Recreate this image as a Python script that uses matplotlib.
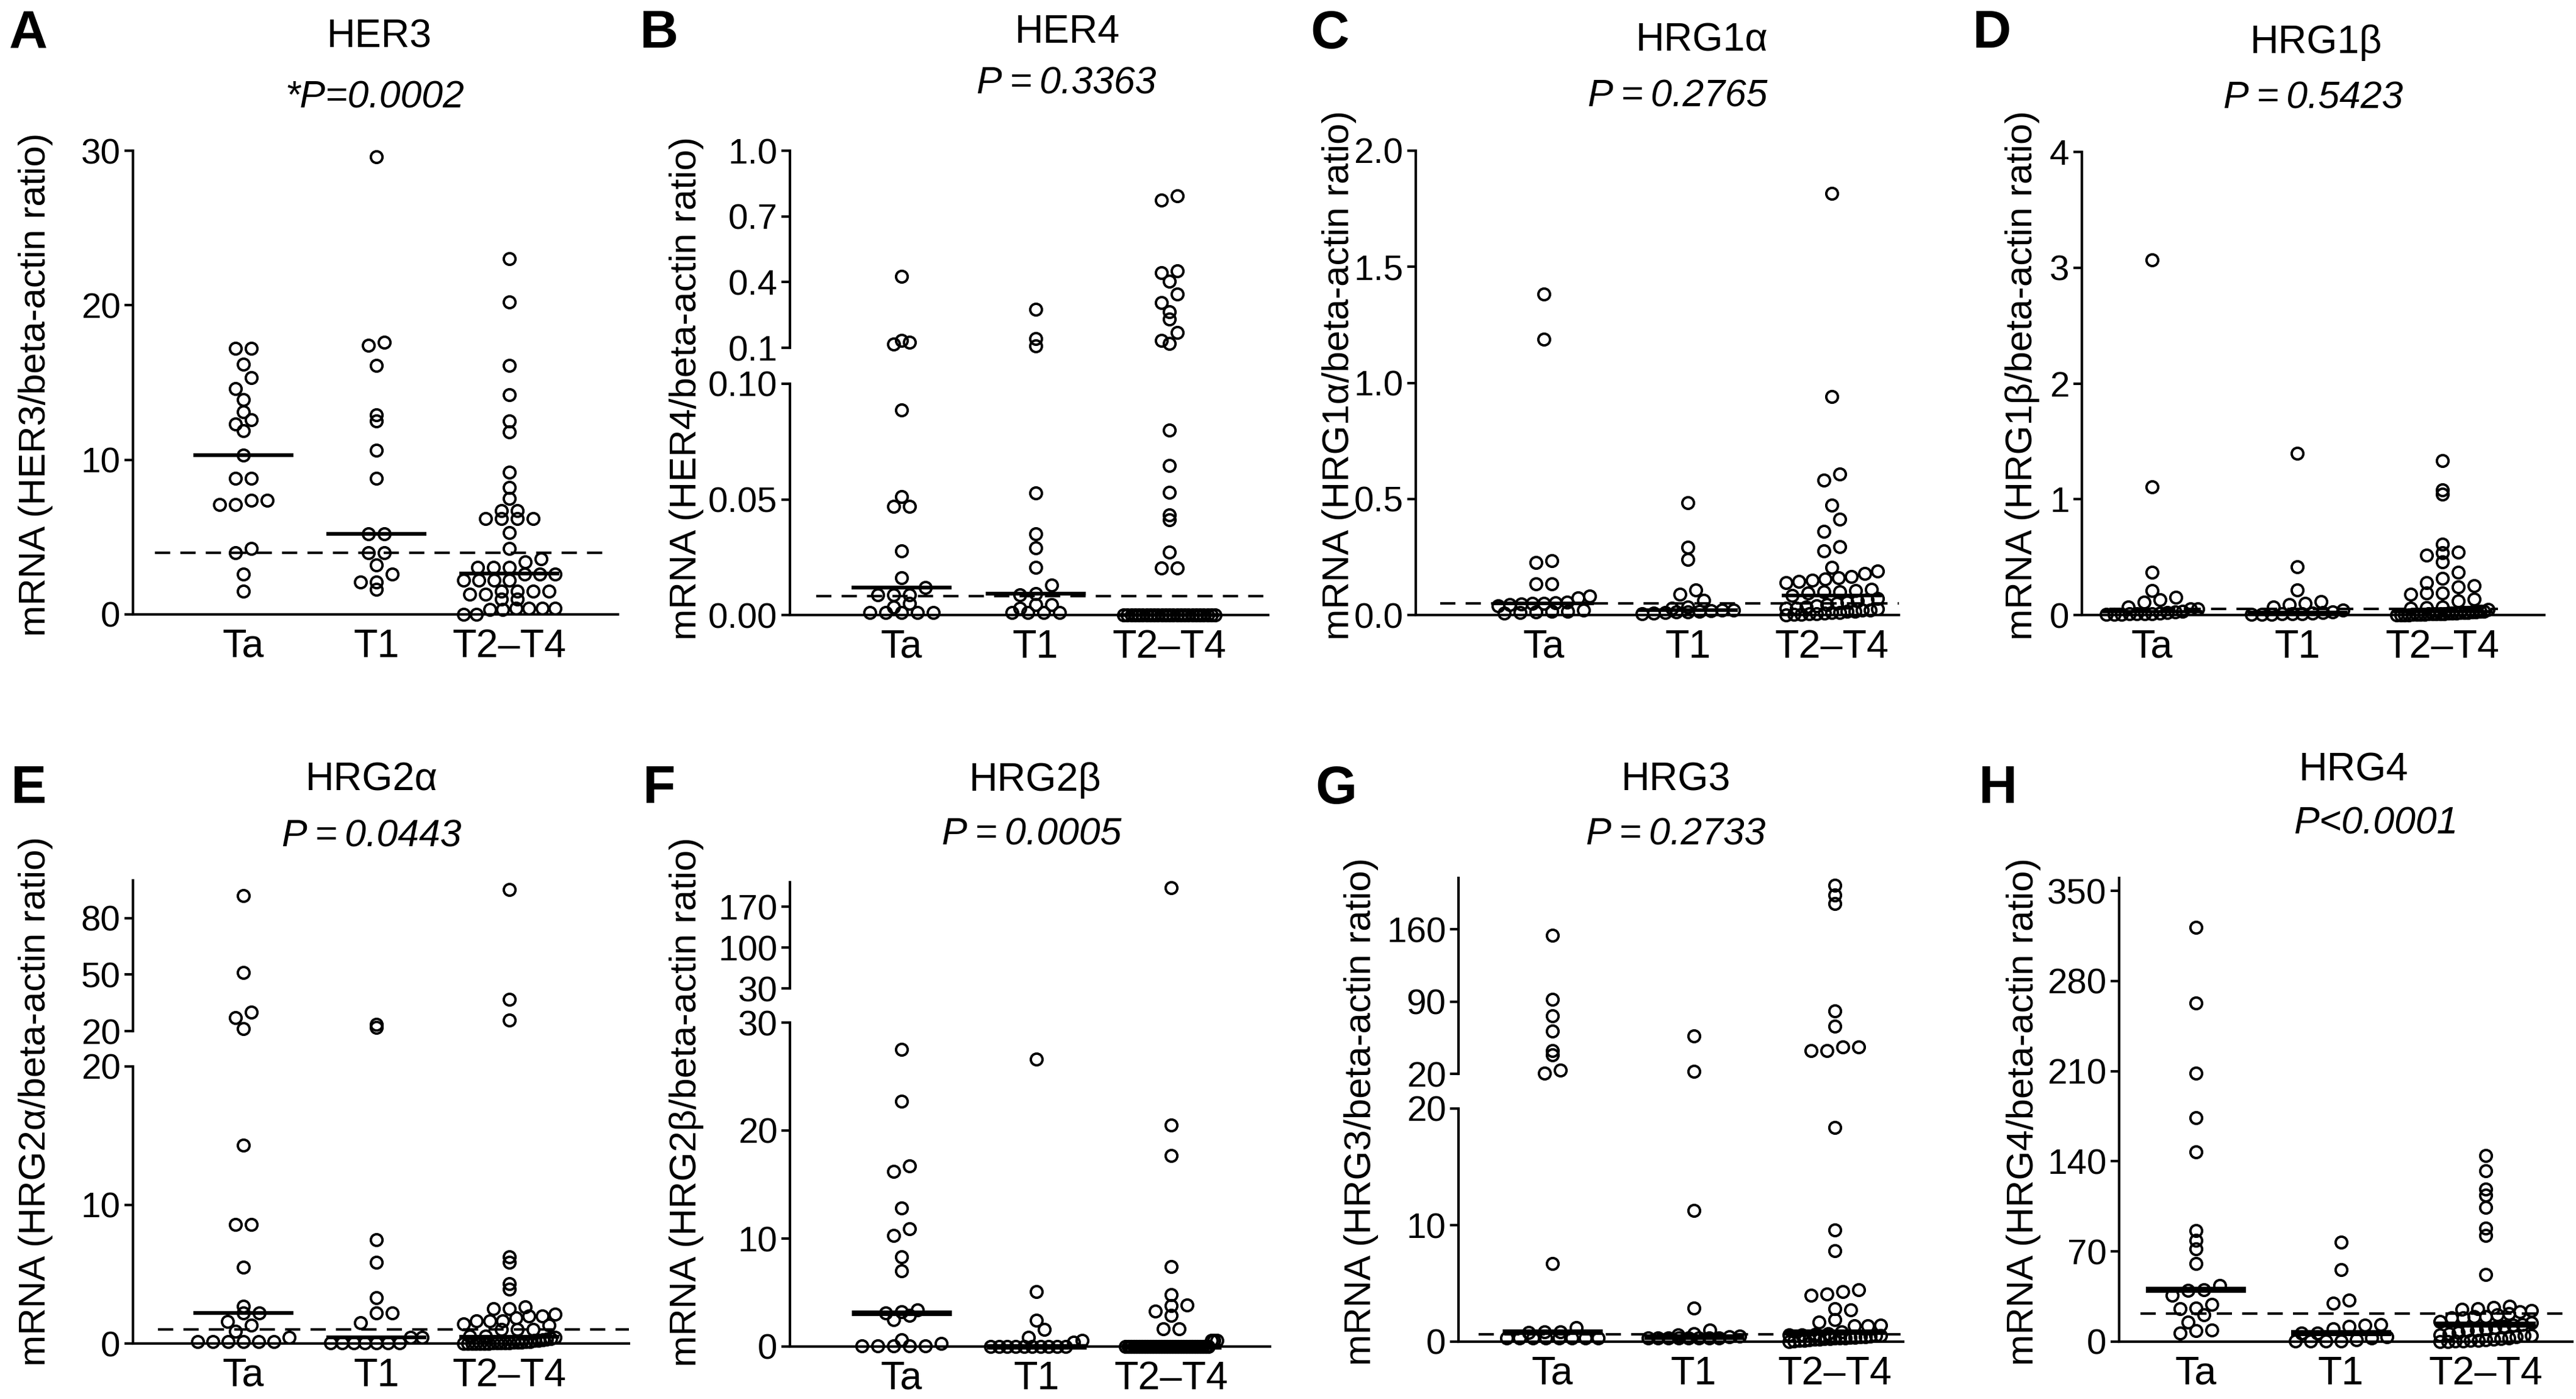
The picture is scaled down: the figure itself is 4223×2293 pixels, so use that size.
import numpy as np
import matplotlib
matplotlib.use("Agg")
import matplotlib.pyplot as plt

plt.rcParams['font.family'] = ['Liberation Sans', 'DejaVu Sans']
plt.rcParams['axes.linewidth'] = 1.0

W, H, DPI = 4223, 2293, 300
GROUPS = ["Ta", "T1", "T2\u2013T4"]

# ---- values (mRNA / beta-actin ratio) ----
# A  HER3
her3_ta = [17.2, 17.2, 16.2, 15.3, 14.6, 13.9, 13.1, 12.6, 12.3, 11.9, 10.3, 8.8, 8.8,
           7.4, 7.4, 7.1, 7.1, 4.25, 4.0, 2.6, 1.5]
her3_t1 = [29.6, 17.6, 17.4, 16.1, 12.9, 12.5, 10.6, 8.8, 5.2, 5.2, 4.0, 4.0, 3.2, 2.6,
           2.1, 2.1, 1.6]
her3_t24 = [23.0, 20.2, 16.1, 14.2, 12.5, 11.8, 9.2, 8.2, 7.5, 6.7, 6.7, 6.2, 6.2, 6.2,
            6.2, 5.3, 4.25, 3.6, 3.4, 3.05, 3.05, 3.05, 2.6, 2.6, 2.6, 2.2, 2.2, 2.2, 2.2,
            1.5, 1.5, 1.5, 1.5, 1.3, 1.3, 1.0, 1.0, 0.4, 0.4, 0.4, 0.4, 0.3, 0.3, 0.0, 0.0]
her3_med = [10.3, 5.2, 2.65]
her3_cut = 4.0

# B  HER4
her4_ta = [0.425, 0.133, 0.124, 0.118, 0.0887, 0.0513, 0.047, 0.047, 0.0276, 0.0161,
           0.012, 0.0087, 0.0087, 0.0087, 0.005, 0.0035, 0.001, 0.001, 0.001, 0.001, 0.001]
her4_t1 = [0.275, 0.143, 0.108, 0.0528, 0.035, 0.029, 0.0207, 0.013, 0.0093, 0.0087,
           0.0044, 0.0044, 0.003, 0.001, 0.001, 0.001, 0.001]
her4_t24 = [0.794, 0.775, 0.451, 0.443, 0.404, 0.345, 0.306, 0.265, 0.231, 0.169, 0.133,
            0.120, 0.080, 0.0646, 0.0531, 0.0433, 0.0411, 0.0272, 0.0204, 0.0204] + [0.0] * 25
her4_med = [0.012, 0.0093, 0.0]
her4_cut = 0.0083

# C  HRG1alpha
hrg1a_ta = [1.382, 1.189, 0.234, 0.225, 0.133, 0.133, 0.081, 0.074, 0.055, 0.052, 0.05,
            0.05, 0.048, 0.045, 0.04, 0.02, 0.017, 0.015, 0.012, 0.01, 0.008]
hrg1a_t1 = [0.483, 0.293, 0.238, 0.109, 0.09, 0.063, 0.035, 0.03, 0.022, 0.02, 0.018,
            0.015, 0.013, 0.012, 0.01, 0.008, 0.005]
hrg1a_t24 = [1.816, 0.94, 0.606, 0.581, 0.474, 0.413, 0.359, 0.295, 0.275, 0.206, 0.188,
             0.179, 0.165, 0.16, 0.155, 0.15, 0.145, 0.14, 0.11, 0.105, 0.10, 0.10, 0.095,
             0.083, 0.07, 0.065, 0.06, 0.055, 0.05, 0.045, 0.04, 0.035, 0.03, 0.03, 0.025,
             0.02, 0.02, 0.015, 0.015, 0.01, 0.01, 0.008, 0.005, 0.005, 0.003, 0.002, 0.0]
hrg1a_med = [0.05, 0.022, 0.083]
hrg1a_cut = 0.05

# D  HRG1beta
hrg1b_ta = [3.065, 1.109, 0.37, 0.21, 0.155, 0.13, 0.11, 0.07, 0.055, 0.055, 0.03, 0.025,
            0.02, 0.015, 0.01, 0.01, 0.01, 0.008, 0.005, 0.005, 0.003]
hrg1b_t1 = [1.394, 0.414, 0.218, 0.118, 0.1, 0.092, 0.07, 0.04, 0.026, 0.02, 0.015, 0.01,
            0.01, 0.008, 0.005, 0.005, 0.003]
hrg1b_t24 = [1.331, 1.079, 1.043, 0.61, 0.543, 0.536, 0.517, 0.458, 0.37, 0.314, 0.277,
             0.255, 0.24, 0.19, 0.19, 0.18, 0.137, 0.12, 0.07, 0.065, 0.06, 0.05, 0.033,
             0.03, 0.028, 0.025, 0.022, 0.02, 0.02, 0.018, 0.015, 0.015, 0.012, 0.01, 0.01,
             0.008, 0.008, 0.006, 0.005, 0.004, 0.003, 0.002, 0.001, 0.0, 0.0]
hrg1b_med = [0.03, 0.026, 0.033]
hrg1b_cut = 0.055

# E  HRG2alpha
hrg2a_ta = [92, 51, 29.9, 27, 21.4, 14.3, 8.6, 8.6, 5.5, 2.7, 2.2, 2.2, 1.6, 1.3, 0.9,
            0.45, 0.15, 0.15, 0.15, 0.15, 0.15, 0.15]
hrg2a_t1 = [23.5, 21.8, 7.5, 5.85, 3.3, 2.2, 2.2, 1.5, 0.45, 0.45, 0.05, 0.05, 0.05, 0.05,
            0.05, 0.05, 0.05]
hrg2a_t24 = [95, 36.8, 25.8, 6.25, 5.85, 4.3, 3.9, 2.65, 2.5, 2.5, 2.1, 2.0, 2.0, 1.85,
             1.65, 1.65, 1.65, 1.4, 1.3, 1.0, 1.0, 1.0, 0.55, 0.55, 0.45, 0.35, 0.3, 0.25,
             0.2, 0.2, 0.15, 0.15, 0.1, 0.1, 0.1, 0.05, 0.05, 0.05, 0.05, 0.05, 0.02, 0.02,
             0.02, 0.0, 0.0, 0.0, 0.0]
hrg2a_med = [2.2, 0.45, 0.5]
hrg2a_cut = 1.0

# F  HRG2beta
hrg2b_ta = [27.5, 22.7, 16.7, 16.2, 12.8, 10.9, 10.3, 8.3, 7.0, 3.4, 3.2, 3.1, 2.9, 2.5,
            0.6, 0.3, 0.05, 0.05, 0.05, 0.05, 0.05]
hrg2b_t1 = [26.6, 5.1, 2.45, 1.6, 0.85, 0.55, 0.4] + [0.0] * 10
hrg2b_t24 = [203, 20.5, 17.7, 7.4, 4.8, 3.85, 3.8, 3.3, 2.9, 1.65, 1.65, 0.55, 0.55,
             0.55] + [0.0] * 31
hrg2b_med = [3.1, 0.0, 0.0]
hrg2b_cut = None

# G  HRG3
hrg3_ta = [154.6, 92.1, 76.2, 61.5, 42.6, 38.4, 23.8, 20.5, 6.7, 1.2, 0.82, 0.82, 0.8,
           0.3, 0.3, 0.3, 0.3, 0.3, 0.3, 0.3, 0.3]
hrg3_t1 = [56.5, 22.1, 11.25, 2.87, 1.0, 0.7, 0.55, 0.45, 0.4, 0.3, 0.3, 0.3, 0.3, 0.3,
           0.3, 0.3, 0.3]
hrg3_t24 = [203, 193.4, 185.4, 80.8, 66.1, 46, 46, 42.6, 42.6, 18.4, 9.57, 7.8, 4.46, 4.3,
            4.1, 4.0, 2.85, 2.7, 1.9, 1.65, 1.43, 1.35, 1.35, 0.82, 0.7, 0.65, 0.6, 0.55,
            0.5, 0.5, 0.45, 0.4, 0.4, 0.35, 0.35, 0.3, 0.3, 0.3, 0.25, 0.25, 0.2, 0.2,
            0.15, 0.1, 0.1, 0.05, 0.0]
hrg3_med = [0.82, 0.42, 0.82]
hrg3_cut = 0.63

# H  HRG4
hrg4_ta = [321.5, 263, 208.4, 174, 147.4, 86.4, 78.5, 71.8, 60.4, 43.8, 40.5, 39.9, 36,
           28.9, 26, 25.7, 21, 15, 9.1, 8.4, 6.5]
hrg4_t1 = [77.4, 55.7, 32.3, 29.7, 13.1, 12.8, 11.8, 10, 6.8, 6.5, 3.6, 2.8, 1.3, 0.5,
           0.3, 0.3, 0.3]
hrg4_t24 = [144.4, 132.7, 118.6, 113.6, 104.1, 88.3, 82.3, 52, 27.3, 26.5, 25.7, 24.9,
            24.1, 23.3, 21.8, 21, 19.4, 19.4, 18.6, 18.6, 15.5, 14.7, 13.1, 13, 12, 11, 10,
            9.1, 8.4, 7, 6, 5.2, 4.9, 4.9, 4, 3, 2.5, 2, 1.5, 1, 0.8, 0.5, 0.3, 0.2, 0.1]
hrg4_med = [40.5, 6.8, 13.1]
hrg4_cut = 21.8

# ---- layout (pixels in the 4223 x 2293 canvas) ----
# xr: y-axis / end of x-axis, cx: centre of the Ta and T2-T4 columns
panels = [
    dict(letter="A", lxy=(46, 56), title="HER3", txy=(622, 60),
         ptext="*P=0.0002", pxy=(614, 160),
         ylabel="mRNA (HER3/beta-actin ratio)", yl=(59, 630),
         data=(her3_ta, her3_t1, her3_t24), med=her3_med, cut=her3_cut,
         dash=(0.045, 0.985), medlw=1.5, xr=(218, 1013), cx=(399, 835),
         segs=[((0, 30), [0, 10, 20, 30], ["0", "10", "20", "30"], (247, 1007))]),
    dict(letter="B", lxy=(1080, 56), title="HER4", txy=(1750, 53),
         ptext="P\u2009=\u20090.3363", pxy=(1748, 137),
         ylabel="mRNA (HER4/beta-actin ratio)", yl=(1126, 636),
         data=(her4_ta, her4_t1, her4_t24), med=her4_med, cut=her4_cut,
         dash=(0.055, 0.99), medlw=1.5, xr=(1295, 2079), cx=(1478, 1917),
         segs=[((0, 0.10), [0, 0.05, 0.10], ["0.00", "0.05", "0.10"], (629, 1008)),
               ((0.1, 1.0), [0.1, 0.4, 0.7, 1.0], ["0.1", "0.4", "0.7", "1.0"], (247, 570))]),
    dict(letter="C", lxy=(2180, 56), title="HRG1\u03b1", txy=(2790, 66),
         ptext="P\u2009=\u20090.2765", pxy=(2750, 158),
         ylabel="mRNA (HRG1\u03b1/beta-actin ratio)", yl=(2196, 615),
         data=(hrg1a_ta, hrg1a_t1, hrg1a_t24), med=hrg1a_med, cut=hrg1a_cut,
         dash=(0.05, 1.0), medlw=1.4, xr=(2321, 3113), cx=(2531, 3003),
         segs=[((0, 2.0), [0, 0.5, 1.0, 1.5, 2.0], ["0.0", "0.5", "1.0", "1.5", "2.0"],
                (247, 1008))]),
    dict(letter="D", lxy=(3265, 56), title="HRG1\u03b2", txy=(3797, 70),
         ptext="P\u2009=\u20090.5423", pxy=(3792, 161),
         ylabel="mRNA (HRG1\u03b2/beta-actin ratio)", yl=(3316, 615),
         data=(hrg1b_ta, hrg1b_t1, hrg1b_t24), med=hrg1b_med, cut=hrg1b_cut,
         dash=(0.06, 0.9), medlw=1.3, xr=(3413, 4171), cx=(3528, 4004),
         segs=[((0, 4), [0, 1, 2, 3, 4], ["0", "1", "2", "3", "4"], (249, 1008))]),
    dict(letter="E", lxy=(46, 1294), title="HRG2\u03b1", txy=(609, 1279),
         ptext="P\u2009=\u20090.0443", pxy=(609, 1371),
         ylabel="mRNA (HRG2\u03b1/beta-actin ratio)", yl=(59, 1805),
         data=(hrg2a_ta, hrg2a_t1, hrg2a_t24), med=hrg2a_med, cut=hrg2a_cut,
         dash=(0.05, 1.0), medlw=1.5, xr=(218, 1031), cx=(399, 835),
         segs=[((0, 20), [0, 10, 20], ["0", "10", "20"], (1748, 2202)),
               ((20, 100), [20, 50, 80], ["20", "50", "80"], (1443, 1690))]),
    dict(letter="F", lxy=(1080, 1294), title="HRG2\u03b2", txy=(1697, 1279),
         ptext="P\u2009=\u20090.0005", pxy=(1691, 1368),
         ylabel="mRNA (HRG2\u03b2/beta-actin ratio)", yl=(1126, 1806),
         data=(hrg2b_ta, hrg2b_t1, hrg2b_t24), med=hrg2b_med, cut=hrg2b_cut,
         dash=(0.05, 0.95), medlw=2.2, xr=(1295, 2082), cx=(1478, 1920),
         segs=[((0, 30), [0, 10, 20, 30], ["0", "10", "20", "30"], (1676, 2207)),
               ((30, 212), [30, 100, 170], ["30", "100", "170"], (1446, 1620))]),
    dict(letter="G", lxy=(2190, 1294), title="HRG3", txy=(2747, 1279),
         ptext="P\u2009=\u20090.2733", pxy=(2747, 1368),
         ylabel="mRNA (HRG3/beta-actin ratio)", yl=(2232, 1822),
         data=(hrg3_ta, hrg3_t1, hrg3_t24), med=hrg3_med, cut=hrg3_cut,
         dash=(0.045, 1.0), medlw=2.2, xr=(2391, 3120), cx=(2545, 3008),
         segs=[((0, 20), [0, 10, 20], ["0", "10", "20"], (1817, 2199)),
               ((20, 210), [20, 90, 160], ["20", "90", "160"], (1439, 1760))]),
    dict(letter="H", lxy=(3275, 1294), title="HRG4", txy=(3859, 1262),
         ptext="P<0.0001", pxy=(3895, 1350),
         ylabel="mRNA (HRG4/beta-actin ratio)", yl=(3318, 1822),
         data=(hrg4_ta, hrg4_t1, hrg4_t24), med=hrg4_med, cut=hrg4_cut,
         dash=(0.047, 1.0), medlw=2.4, xr=(3474, 4217), cx=(3600, 4075),
         segs=[((0, 360), [0, 70, 140, 210, 280, 350],
                ["0", "70", "140", "210", "280", "350"], (1439, 2199))]),
]

fig = plt.figure(figsize=(W / DPI, H / DPI), dpi=DPI)


def add_ax(left, right, top, bottom):
    return fig.add_axes([left / W, 1 - bottom / H, (right - left) / W, (bottom - top) / H])


def swarm(ax, vals, d=26.0, bin_h=21.0, wmax=150.0):
    # Prism-like column scatter: bin by height, spread each bin sideways
    vals = np.asarray(vals, float)
    if len(vals) == 0:
        return vals
    ypx = ax.transData.transform(np.column_stack([np.ones_like(vals), vals]))[:, 1]
    y0 = ax.transData.transform((1, ax.get_ylim()[0]))[1]
    rows = np.floor((ypx - y0) / bin_h + 0.5).astype(int)
    off = np.zeros_like(vals)
    for r in np.unique(rows):
        idx = np.flatnonzero(rows == r)
        n = len(idx)
        if n < 2:
            continue
        idx = idx[np.argsort(vals[idx], kind="stable")]
        step = min(d, wmax / (n - 1))
        off[idx] = (np.arange(n) - (n - 1) / 2) * step
    xpx = ax.transData.transform([(0, 0), (1, 0)])[:, 0]
    return off / (xpx[1] - xpx[0])


for p in panels:
    left, right = p["xr"]
    c1, c3 = p["cx"]
    step = (c3 - c1) / 2.0
    xlim = (1 - (c1 - left) / step, 1 + (right - c1) / step)

    axes = []
    for k, (ylim, ticks, labels, (top, bot)) in enumerate(p["segs"]):
        ax = add_ax(left, right, top, bot)
        ax.set_xlim(xlim)
        ax.set_ylim(ylim)
        ax.set_yticks(ticks)
        ax.set_yticklabels(labels)
        ax.spines["top"].set_visible(False)
        ax.spines["right"].set_visible(False)
        ax.tick_params(axis="y", length=3.4, width=1.0, labelsize=14, pad=1.5)
        if k == 0:
            ax.set_xticks([1, 2, 3])
            ax.set_xticklabels(GROUPS, fontsize=15.5)
            ax.tick_params(axis="x", length=0, pad=5.5)
        else:
            ax.spines["bottom"].set_visible(False)
            ax.set_xticks([])
        ax.patch.set_visible(False)
        axes.append(ax)

    # split points between the axis segments
    for gi, vals in enumerate(p["data"]):
        vals = np.asarray(vals, float)
        seg = np.zeros(len(vals), int)
        for j in range(1, len(p["segs"])):
            seg[vals > p["segs"][j - 1][0][1]] = j
        for j, ax in enumerate(axes):
            v = vals[seg == j]
            if len(v) == 0:
                continue
            dx = swarm(ax, v)
            ax.plot(gi + 1 + dx, v, "o", ms=4.6, mfc="none", mec="black", mew=0.95,
                    clip_on=False, zorder=4)

    ax0 = axes[0]
    xpx = ax0.transData.transform([(0, 0), (1, 0)])[:, 0]
    hw = 82.0 / (xpx[1] - xpx[0])
    for gi, m in enumerate(p["med"]):
        ax0.plot([gi + 1 - hw, gi + 1 + hw], [m, m], color="black", lw=p["medlw"],
                 solid_capstyle="butt", clip_on=False, zorder=5)
    if p["cut"] is not None:
        ax0.axhline(p["cut"], p["dash"][0], p["dash"][1], color="black", lw=1.0,
                    dashes=(6, 4), zorder=3)

    fig.text(p["lxy"][0] / W, 1 - p["lxy"][1] / H, p["letter"], fontsize=21,
             fontweight="bold", ha="center", va="center")
    fig.text(p["txy"][0] / W, 1 - p["txy"][1] / H, p["title"], fontsize=15.5,
             ha="center", va="center")
    fig.text(p["pxy"][0] / W, 1 - p["pxy"][1] / H, p["ptext"], fontsize=15,
             style="italic", ha="center", va="center")
    fig.text(p["yl"][0] / W, 1 - p["yl"][1] / H, p["ylabel"], fontsize=14.8,
             rotation=90, ha="center", va="center")

fig.savefig("out.png", dpi=DPI, facecolor="white")
